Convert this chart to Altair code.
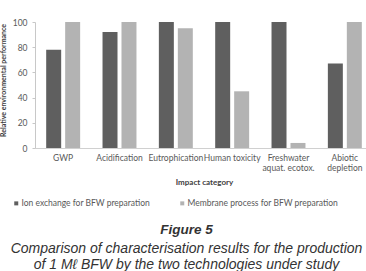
import altair as alt
import pandas as pd

categories = ["GWP", "Acidification", "Eutrophication", "Human toxicity",
              "Freshwater aquat. ecotox.", "Abiotic depletion"]
series = ["Ion exchange for BFW preparation", "Membrane process for BFW preparation"]
ion_exchange = [78, 92, 100, 100, 100, 67]
membrane = [100, 100, 95, 45, 4, 100]

rows = []
for c, a, b in zip(categories, ion_exchange, membrane):
    rows.append({"category": c, "series": series[0], "value": a})
    rows.append({"category": c, "series": series[1], "value": b})
df = pd.DataFrame(rows)

label_expr = ("datum.value == 'Freshwater aquat. ecotox.' ? ['Freshwater', 'aquat. ecotox.'] : "
              "datum.value == 'Abiotic depletion' ? ['Abiotic', 'depletion'] : datum.value")

chart = alt.Chart(df).mark_bar().encode(
    x=alt.X("category:N", sort=categories,
            scale=alt.Scale(range=[0, 338], paddingInner=0, paddingOuter=0),
            axis=alt.Axis(title="Impact category", labelAngle=0, labelExpr=label_expr,
                          labelOverlap=False, labelBound=False, ticks=False,
                          labelPadding=5, labelFontSize=8.5, labelLineHeight=10,
                          labelColor="#595959", titleFontSize=8, titleFontWeight="bold",
                          titleColor="#404040", titlePadding=7,
                          domainColor="#d0d0d0", labelFont="Lato", titleFont="Lato")),
    xOffset=alt.XOffset("series:N", sort=series,
                        scale=alt.Scale(paddingInner=0.21, paddingOuter=0.59)),
    y=alt.Y("value:Q", scale=alt.Scale(domain=[0, 100]),
            axis=alt.Axis(title="Relative environmental performance", values=[0, 20, 40, 60, 80, 100],
                          grid=False, tickSize=3, tickColor="#c8c8c8", domainColor="#c8c8c8",
                          labelFontSize=8.5, labelColor="#595959", labelPadding=5,
                          titleFontSize=7, titleFontWeight="bold", titleColor="#404040",
                          titlePadding=6, titleY=58, labelFont="Lato", titleFont="Lato")),
    color=alt.Color("series:N", sort=series,
                    scale=alt.Scale(domain=series, range=["#5f5f5f", "#b3b3b3"]),
                    legend=alt.Legend(title=None, orient="none", legendX=-23, legendY=177,
                                      direction="horizontal", symbolType="square",
                                      symbolSize=16, symbolStrokeWidth=0, labelFontSize=8.5,
                                      labelColor="#595959", labelFont="Lato",
                                      labelOffset=1, columnPadding=27)),
).properties(
    width=331, height=126,
    autosize=alt.AutoSizeParams(type="none"),
    padding={"left": 35, "top": 22, "right": 0, "bottom": 123},
    title=alt.TitleParams(
        text="Figure 5",
        subtitle=["Comparison of characterisation results for the production",
                  "of 1 M\u2113 BFW by the two technologies under study"],
        orient="bottom", anchor="middle", dx=-14, offset=15,
        font="Liberation Sans", fontSize=13.5, fontWeight="bold", fontStyle="italic",
        color="#333333",
        subtitleFont="Liberation Sans", subtitleFontSize=14, subtitleFontStyle="italic",
        subtitleColor="#333333", subtitlePadding=5, subtitleLineHeight=16.5),
).configure_view(stroke=None)

chart.save("out.html", embed_options={"renderer": "svg", "actions": False})
